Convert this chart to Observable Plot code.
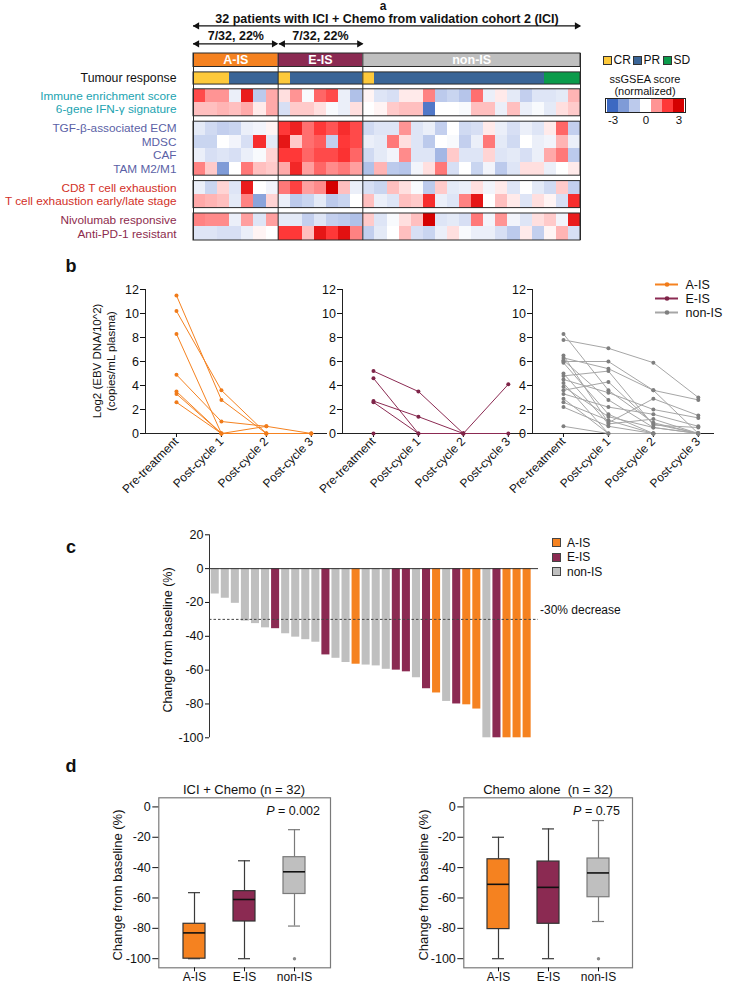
<!DOCTYPE html>
<html>
<head>
<meta charset="utf-8">
<script src="https://cdn.jsdelivr.net/npm/d3@7"></script>
<script src="https://cdn.jsdelivr.net/npm/@observablehq/plot@0.6"></script>
<style>
html,body{margin:0;padding:0;background:#fff;}
#root{position:relative;width:730px;height:990px;overflow:hidden;font-family:"Liberation Sans",Arial,Helvetica,sans-serif;color:#111;}
#root svg{overflow:visible;}
.t{position:absolute;white-space:nowrap;line-height:1;}
</style>
</head>
<body>
<div id="root"></div>
<script>
// ================= DATA =================
const groups = ["A-IS", "E-IS", "non-IS"];
const groupColors = ["#f58220", "#8b2a52", "#bfbfbf"];
const groupSizes = [7, 7, 18];

// Panel a
const tumourResponse = [
  "CR","CR","CR","PR","PR","PR","PR",
  "CR","PR","PR","PR","PR","PR","PR",
  "CR","PR","PR","PR","PR","PR","PR","PR","PR","PR","PR","PR","PR","PR","PR","SD","SD","SD"];
const responseCategories = ["CR", "PR", "SD"];
const responseColors = ["#fdc93b", "#3a6597", "#0b9b4b"];

const immuneEnrichment = [1.8,1.0,1.0,-0.3,2.5,-1.0,0.8, 0.3,1.0,-0.1,1.5,1.8,-0.3,-1.2, 0.1,-0.5,-0.6,0.2,0.2,1.2,-1.0,-0.8,-1.1,1.4,-0.3,0.2,-0.4,-0.9,-0.5,-0.5,-0.4,0.7];
const ifngSignature    = [0.6,0.6,0.7,0.6,0.8,0.2,0.8, -0.6,0.5,0.5,0.3,-0.1,-0.3,0.3, 0.0,0.1,0.5,0.6,0.6,-2.7,0.0,0.0,-0.1,0.6,0.6,-0.3,0.6,-0.3,-0.1,-0.4,0.3,0.5];
const tgfEcm           = [-0.4,-0.7,-0.9,-0.8,-0.3,-0.2,0.1, 2.0,2.4,1.4,2.0,1.7,2.2,1.8, -0.7,-0.5,-0.5,1.0,-0.5,-0.3,-0.9,0.0,-0.7,-0.6,0.2,-0.3,-0.6,-0.3,-0.5,0.2,1.5,-0.9];
const mdsc             = [-0.8,-0.8,0.0,-0.2,-0.6,2.2,-0.4, 2.6,0.5,1.4,1.6,-0.9,2.0,1.8, -0.3,-0.4,1.3,0.3,-0.5,-1.0,0.0,-0.1,-0.9,-0.3,1.3,-0.4,-0.7,0.0,-0.3,-0.2,0.7,-0.3];
const caf              = [-0.3,-0.6,-0.5,-0.6,-0.3,-0.1,0.4, 2.0,2.0,1.5,1.8,1.8,2.1,1.5, -0.7,-0.4,-0.2,1.1,-0.5,-0.5,-1.4,0.5,-0.5,-0.5,0.4,-0.5,-0.4,-0.6,-0.3,0.8,1.3,-1.0];
const tamM2M1          = [1.2,0.5,-2.0,0.0,1.3,0.6,0.5, 0.8,2.3,0.9,1.5,1.1,1.3,0.9, -1.2,0.7,-1.0,-1.1,-0.2,0.3,1.3,-0.6,0.0,-0.8,-0.2,-1.0,-0.5,0.3,0.3,-0.3,0.0,0.2];
const cd8Exhaustion    = [-0.3,-0.8,0.4,-0.5,2.5,0.0,-0.2, 1.3,1.9,0.9,1.1,3.0,0.6,-0.3, -0.6,-0.8,0.6,0.3,-0.1,-1.0,0.5,-0.4,-0.3,0.3,-0.2,0.2,-0.5,0.0,-0.4,-0.7,0.5,-0.9];
const tcellExhStage    = [0.8,0.7,0.6,-0.4,1.2,-1.8,0.4, -0.3,-1.0,-0.8,-0.4,-1.0,-0.8,0.0, 0.6,-0.3,-0.5,0.6,0.5,2.2,-0.3,-0.5,1.2,2.6,0.0,0.6,0.2,-0.5,0.3,0.1,-0.6,2.2];
const nivolumabResp    = [1.2,1.1,1.1,-0.3,0.9,-0.5,0.9, -0.4,-0.4,-0.9,-0.5,-0.9,-1.0,-1.2, 0.5,-0.5,-0.1,0.3,0.6,3.0,-0.5,-0.4,-0.6,1.3,-0.2,1.0,-0.2,-0.5,0.3,0.5,-0.2,2.5];
const antiPd1Resist    = [-0.5,-0.5,-0.6,-0.6,-0.3,0.1,0.0, 2.0,2.0,0.6,2.6,2.0,2.7,1.2, -0.9,-0.4,0.0,0.6,-0.6,-0.8,-0.3,0.3,-0.1,-0.3,-0.3,-0.6,-1.0,0.2,-0.9,0.1,0.7,-0.6];

const signatureBlocks = [
  {color: "#1ba3b1", rows: [["Immune enrichment score", immuneEnrichment], ["6-gene IFN-\u03b3 signature", ifngSignature]]},
  {color: "#5b5fa6", rows: [["TGF-\u03b2-associated ECM", tgfEcm], ["MDSC", mdsc], ["CAF", caf], ["TAM M2/M1", tamM2M1]]},
  {color: "#d22f27", rows: [["CD8 T cell exhaustion", cd8Exhaustion], ["T cell exhaustion early/late stage", tcellExhStage]]},
  {color: "#8d2b4d", rows: [["Nivolumab responsive", nivolumabResp], ["Anti-PD-1 resistant", antiPd1Resist]]}
];
const scoreLegendValues = [-3, -2, -1, 0, 1, 2, 3];
const scoreLegendTicks = [-3, 0, 3];

// Panel b
const timepoints = ["Pre-treatment", "Post-cycle 1", "Post-cycle 2", "Post-cycle 3"];
const ebvTicks = [0, 2, 4, 6, 8, 10, 12];
const ebvAIS = [
  [11.5, 2.8, 0, null],
  [10.2, 3.6, 0, 0],
  [8.3, 0, 0.6, 0],
  [4.9, 1.0, 0.6, null],
  [3.5, 0, 0, null],
  [3.3, 0, null, null],
  [2.6, 0, 0, 0]
];
const ebvEIS = [
  [5.2, 3.5, 0, null],
  [4.6, 0, 0, 4.1],
  [2.7, 1.4, 0, 0],
  [2.6, 0, 0, null],
  [0, null, null, null]
];
const ebvNonIS = [
  [8.3, 3.6, 0.9, 0],
  [7.8, 7.1, 5.9, 3.0],
  [6.5, 0.9, 2.9, 1.5],
  [6.3, 5.4, 3.6, 0],
  [6.1, 2.8, 0.5, 0],
  [6.0, 6.0, 3.6, 2.8],
  [5.9, 1.6, 0, 0],
  [4.8, 5.2, 0.7, 0.5],
  [4.5, 3.4, 2.0, 1.3],
  [4.2, 0, 0, 0],
  [3.6, 4.3, 0.8, 0],
  [3.3, 2.2, 1.6, 0.6],
  [2.9, 0, 0, 0],
  [2.6, 1.1, 0, null],
  [0.6, 0, 0, 0],
  [5.0, 0.8, 1.2, 0],
  [3.9, 1.4, 0.5, 0],
  [2.2, 0.6, 0, 0]
];

// Panel c
const waterfallGroup = ["non-IS","non-IS","non-IS","non-IS","non-IS","non-IS","E-IS","non-IS","non-IS","non-IS","non-IS","E-IS","non-IS","non-IS","A-IS","non-IS",
  "non-IS","non-IS","E-IS","E-IS","non-IS","E-IS","A-IS","non-IS","E-IS","A-IS","A-IS","non-IS","E-IS","A-IS","A-IS","A-IS"];
const waterfallChange = [-15,-17.5,-20.5,-31,-32.5,-35,-35.5,-38.5,-40.5,-42,-43.5,-51,-53,-55.5,-56.5,-57,
  -57.5,-59.5,-60,-61,-64.5,-71,-73.5,-78.5,-80,-80.5,-83,-100,-100,-100,-100,-100];
const waterfallTicks = [20, 0, -20, -40, -60, -80, -100];
const decreaseThreshold = -30;

// Panel d (chemo alone summary statistics)
const chemoWhiskerHigh = [-20, -14.5, -9];
const chemoQ3 = [-34.5, -36, -34];
const chemoMedian = [-51, -53, -43.5];
const chemoQ1 = [-80.5, -77, -59.5];
const chemoWhiskerLow = [-100, -100, -75.5];
const chemoOutlierGroup = ["non-IS"];
const chemoOutlierValue = [-100];
const boxTicks = [0, -20, -40, -60, -80, -100];

// ================= HELPERS =================
const FONT = '"Liberation Sans", Arial, Helvetica, sans-serif';
const baseStyle = {fontFamily: FONT, fontSize: "12px", color: "#111", background: "transparent", overflow: "visible"};
const root = document.getElementById("root");
function place(node, left, top) {
  const w = document.createElement("div");
  w.style.cssText = `position:absolute;left:${left}px;top:${top}px;`;
  w.appendChild(node); root.appendChild(w); return w;
}
function label(content, x, y, css = "", ax = "-50%", ay = "-50%", rot = 0) {
  const d = document.createElement("div");
  d.className = "t";
  d.innerHTML = content;
  d.style.cssText += `left:${x}px;top:${y}px;transform:translate(${ax},${ay}) rotate(${rot}deg);` + css;
  root.appendChild(d); return d;
}
const scoreColor = {type: "linear", domain: scoreLegendValues,
  range: ["#3d69c2", "#7f9bd7", "#bccaec", "#ffffff", "#ff9494", "#ff3838", "#d50000"], clamp: true};

// ================= PANEL a =================
const nPatients = tumourResponse.length;
const groupBlocks = [];
{ let s = 0; groups.forEach((g, k) => { groupBlocks.push({name: g, color: groupColors[k], start: s, end: s + groupSizes[k]}); s += groupSizes[k]; }); }
const headerBand = {y1: 0, y2: 1};
const respBand = {y1: 1.4, y2: 2.3};
const rowLayout = [], blockLayout = [];
let cursor = 2.65;
signatureBlocks.forEach(b => {
  const start = cursor;
  b.rows.forEach(([name, vals]) => { rowLayout.push({name, vals, color: b.color, y1: cursor, y2: cursor + 1}); cursor += 1; });
  blockLayout.push({y1: start, y2: cursor, color: b.color});
  cursor += 0.4;
});
const yBottom = cursor - 0.4;
const cells = [];
rowLayout.forEach(r => r.vals.forEach((v, i) => cells.push({i, v, y1: r.y1, y2: r.y2})));
const respData = tumourResponse.map((r, i) => ({i, r}));
const yTitle = -2.55, yArrow1 = -2.04, ySub = -1.28, yArrow2 = -0.72;
const arrowSpans = [{x1: 0, x2: nPatients, y: yArrow1},
  {x1: groupBlocks[0].start, x2: groupBlocks[0].end - 0.05, y: yArrow2},
  {x1: groupBlocks[1].start + 0.1, x2: groupBlocks[1].end, y: yArrow2}];
const subLabels = groupBlocks.slice(0, 2).map(g => ({x: (g.start + g.end) / 2,
  text: `${g.end - g.start}/${nPatients}, ${Math.round(100 * (g.end - g.start) / nPatients)}%`}));

const plotA = Plot.plot({
  width: 730, height: 245, margin: 0, style: baseStyle,
  x: {domain: [0, nPatients], range: [193, 580], axis: null},
  y: {domain: [0, yBottom], range: [53, 240], axis: null},
  color: scoreColor,
  marks: [
    ...groupBlocks.map(g => Plot.rect([g], {x1: "start", x2: "end", y1: headerBand.y1, y2: headerBand.y2, fill: g.color})),
    Plot.text(groupBlocks, {x: d => (d.start + d.end) / 2, y: 0.5, text: "name", fill: "white", fontWeight: "bold", fontSize: 12.5}),
    ...responseCategories.map((k, j) => Plot.rect(respData.filter(d => d.r === k),
      {x1: "i", x2: d => d.i + 1, y1: respBand.y1, y2: respBand.y2, fill: responseColors[j], shapeRendering: "crispEdges"})),
    Plot.rect(cells, {x1: "i", x2: d => d.i + 1, y1: "y1", y2: "y2", fill: "v", shapeRendering: "crispEdges"}),
    Plot.rect([headerBand, respBand, ...blockLayout], {x1: 0, x2: nPatients, y1: "y1", y2: "y2", fill: "none", stroke: "#2a2a2a", strokeWidth: 1}),
    Plot.ruleX([0, ...groupBlocks.map(g => g.end)], {y1: 0, y2: yBottom, stroke: "#2a2a2a", strokeWidth: 1}),
    Plot.text(["Tumour response"], {x: 0, y: (respBand.y1 + respBand.y2) / 2, dx: -17, textAnchor: "end", fill: "#111", fontSize: 12.3}),
    ...signatureBlocks.map(b => Plot.text(rowLayout.filter(r => r.color === b.color),
      {x: 0, y: d => (d.y1 + d.y2) / 2, text: "name", dx: -17, textAnchor: "end", fill: b.color, fontSize: 11.8})),
    Plot.text(["32 patients with ICI + Chemo from validation cohort 2 (ICI)"], {x: nPatients / 2, y: yTitle, fontWeight: "bold", fontSize: 12.5, fill: "#111"}),
    Plot.text(subLabels, {x: "x", y: ySub, text: "text", fontWeight: "bold", fontSize: 12.5, fill: "#111"}),
    Plot.ruleY(arrowSpans, {x1: "x1", x2: "x2", y: "y", stroke: "#111", strokeWidth: 1.2}),
    Plot.dot(arrowSpans, {x: "x1", y: "y", symbol: "triangle", r: 2.7, rotate: -90, fill: "#111", dx: 3.5}),
    Plot.dot(arrowSpans, {x: "x2", y: "y", symbol: "triangle", r: 2.7, rotate: 90, fill: "#111", dx: -3.5})
  ]
});
place(plotA, 0, 0);
label("a", 383, 5.5, "font-weight:bold;font-size:12px;");

// legend: tumour response
responseCategories.forEach((k, j) => {
  const x0 = 603 + j * 30;
  label("", x0, 55.5, `width:7px;height:7px;background:${responseColors[j]};border:1px solid #333;`, "0", "0");
  label(k, x0 + 10.5, 60, "font-size:12px;", "0", "-50%");
});
label("ssGSEA score", 645, 79, "font-size:11px;");
label("(normalized)", 645, 91, "font-size:11px;");
const ramp = Plot.plot({
  width: 90, height: 32, marginLeft: 5, marginRight: 5, marginTop: 3, marginBottom: 15, style: baseStyle,
  x: {type: "band", domain: scoreLegendValues, padding: 0, axis: null},
  color: scoreColor,
  marks: [
    Plot.cell(scoreLegendValues, {x: d => d, fill: d => d, shapeRendering: "crispEdges"}),
    Plot.frame({stroke: "#222"}),
    Plot.axisX({ticks: scoreLegendTicks, tickSize: 0, tickPadding: 3, fontSize: 11.5, tickFormat: d => String(d), label: null})
  ]
});
place(ramp, 600, 95.3);

// ================= PANEL b =================
const lineColors = ["#f58220", "#8b2a52", "#a6a6a6"];
const dotColors = ["#f07b1a", "#7e2448", "#7f7f7f"];
function longForm(rows, group) {
  const out = [];
  rows.forEach((r, p) => r.forEach((v, t) => { if (v !== null) out.push({p, t, v, group}); }));
  return out;
}
const bX0 = -0.689, bX1 = 3.36;
function ebvPlot(rows, gi) {
  const data = longForm(rows, groups[gi]);
  return Plot.plot({
    width: 245, height: 220, marginLeft: 55, marginRight: 8, marginTop: 9, marginBottom: 67, style: baseStyle,
    x: {domain: [bX0, bX1], axis: null},
    y: {domain: [0, 12], axis: null},
    color: {domain: groups, range: lineColors},
    marks: [
      Plot.ruleX([bX0], {stroke: "#222"}),
      Plot.ruleY([0], {stroke: "#222"}),
      Plot.axisY({ticks: ebvTicks, tickSize: 5, tickPadding: 1.5, fontSize: 12.5, tickFormat: d => String(d), label: null}),
      Plot.axisX({ticks: [0, 1, 2, 3], tickFormat: i => timepoints[i], tickRotate: -45, tickSize: 4, tickPadding: 2, fontSize: 12, label: null}),
      Plot.line(data, {x: "t", y: "v", z: "p", stroke: "group", strokeWidth: 1}),
      Plot.dot(data, {x: "t", y: "v", r: 2, fill: dotColors[gi]})
    ]
  });
}
label("b", 71, 266, "font-weight:bold;font-size:18px;");
place(ebvPlot(ebvAIS, 0), 90, 280);
place(ebvPlot(ebvEIS, 1), 287, 280);
place(ebvPlot(ebvNonIS, 2), 477, 280);
label("Log2 (EBV DNA/10^2)", 98, 361, "font-size:11.5px;", "-50%", "-50%", -90);
label("(copies/mL plasma)", 112, 361, "font-size:11.5px;", "-50%", "-50%", -90);
const legendB = Plot.plot({
  width: 90, height: 46, margin: 0, style: baseStyle,
  x: {domain: [0, 1], range: [15, 38], axis: null},
  y: {type: "point", domain: groups, range: [8.7, 38.3], padding: 0, axis: null},
  color: {domain: groups, range: lineColors},
  marks: [
    Plot.ruleY(groups, {y: d => d, x1: 0, x2: 1, stroke: d => d, strokeWidth: 2}),
    ...groups.map((g, k) => Plot.dot([g], {x: 0.5, y: d => d, r: 2.3, fill: dotColors[k]})),
    Plot.text(groups, {x: 1, y: d => d, dx: 7, text: d => d, textAnchor: "start", fontSize: 12.5, fill: "#111"})
  ]
});
place(legendB, 640, 275);

// ================= PANEL c =================
const waterfall = waterfallChange.map((v, i) => ({i, v, g: waterfallGroup[i]}));
const cX0 = -0.07, cX1 = 32.63;
const plotC = Plot.plot({
  width: 390, height: 225, marginLeft: 59, marginRight: 2, marginTop: 9.3, marginBottom: 12.7, style: baseStyle,
  x: {domain: [cX0, cX1], axis: null},
  y: {domain: [-100, 20], axis: null},
  color: {domain: groups, range: groupColors},
  marks: [
    Plot.rect(waterfall, {x1: d => d.i + 0.1, x2: d => d.i + 0.9, y1: 0, y2: "v", fill: "g"}),
    Plot.ruleY([decreaseThreshold], {stroke: "#444", strokeDasharray: "2.5,2", strokeWidth: 1}),
    Plot.ruleY([0], {stroke: "#333"}),
    Plot.ruleX([cX0], {stroke: "#333"}),
    Plot.axisY({ticks: waterfallTicks, tickSize: 4, tickPadding: 2, fontSize: 12.5, tickFormat: d => String(d), label: null})
  ]
});
label("c", 71, 547, "font-weight:bold;font-size:18px;");
place(plotC, 150, 525);
label("Change from baseline (%)", 168, 640, "font-size:12.5px;", "-50%", "-50%", -90);
label("-30% decrease", 540, 609.5, "font-size:12px;", "0", "-50%");
groups.forEach((g, k) => {
  const y = 542.7 + k * 14.5;
  label("", 551.5, y - 4.5, `width:7px;height:7px;background:${groupColors[k]};border:1px solid #444;`, "0", "0");
  label(g, 567, y, "font-size:12px;", "0", "-50%");
});

// ================= PANEL d =================
function boxStats(vals) {
  const s = d3.sort(vals);
  const q1 = d3.quantileSorted(s, 0.25), med = d3.quantileSorted(s, 0.5), q3 = d3.quantileSorted(s, 0.75);
  const iqr = q3 - q1;
  const lo = d3.min(s.filter(v => v >= q1 - 1.5 * iqr));
  const hi = d3.max(s.filter(v => v <= q3 + 1.5 * iqr));
  return {q1, med, q3, lo, hi, out: s.filter(v => v < lo || v > hi)};
}
const iciStats = groups.map(g => ({group: g, ...boxStats(waterfall.filter(d => d.g === g).map(d => d.v))}));
const iciOutliers = iciStats.flatMap(s => s.out.map(v => ({group: s.group, v})));
const chemoStats = groups.map((g, k) => ({group: g, q1: chemoQ1[k], med: chemoMedian[k], q3: chemoQ3[k], lo: chemoWhiskerLow[k], hi: chemoWhiskerHigh[k]}));
const chemoOutliers = chemoOutlierGroup.map((g, k) => ({group: g, v: chemoOutlierValue[k]}));

function boxPlot(stats, outliers, width) {
  const dark = d => d.group !== "non-IS", light = d => d.group === "non-IS";
  const whisk = (filter, stroke) => [
    Plot.ruleX(stats, {filter, x: "group", y1: "lo", y2: "q1", stroke, strokeWidth: 1.2}),
    Plot.ruleX(stats, {filter, x: "group", y1: "q3", y2: "hi", stroke, strokeWidth: 1.2}),
    Plot.tickY(stats, {filter, x: "group", y: "lo", stroke, insetLeft: 5, insetRight: 5, strokeWidth: 1.2}),
    Plot.tickY(stats, {filter, x: "group", y: "hi", stroke, insetLeft: 5, insetRight: 5, strokeWidth: 1.2})
  ];
  return Plot.plot({
    width, height: 206, marginLeft: 58.3, marginRight: 10, marginTop: 21.3, marginBottom: 14.7, style: baseStyle,
    x: {type: "band", domain: groups, paddingInner: 0.57, paddingOuter: 0.47, axis: null},
    y: {domain: [-106, 6], axis: null},
    color: {domain: groups, range: groupColors},
    marks: [
      ...whisk(dark, "#3a3a3a"),
      ...whisk(light, "#7a7a7a"),
      Plot.barY(stats, {filter: dark, x: "group", y1: "q1", y2: "q3", fill: "group", stroke: "#333", strokeWidth: 1.2}),
      Plot.barY(stats, {filter: light, x: "group", y1: "q1", y2: "q3", fill: "group", stroke: "#7a7a7a", strokeWidth: 1.2}),
      Plot.tickY(stats, {x: "group", y: "med", stroke: "#111", strokeWidth: 1.6}),
      Plot.dot(outliers, {x: "group", y: "v", r: 1.7, fill: "#8a8a8a"}),
      Plot.frame({stroke: "#7a7a7a", strokeWidth: 1.2}),
      Plot.axisY({ticks: boxTicks, tickSize: 6, tickPadding: 2, fontSize: 12.5, tickFormat: d => String(d), label: null}),
      Plot.axisX({tickSize: 4, tickPadding: 1, fontSize: 12, label: null})
    ]
  });
}
label("d", 71, 766, "font-weight:bold;font-size:18px;");
place(boxPlot(iciStats, iciOutliers, 240), 100, 776);
place(boxPlot(chemoStats, chemoOutliers, 237), 405, 776);
label("ICI + Chemo (n = 32)", 244, 789, "font-size:13px;");
label("Chemo alone&nbsp; (n = 32)", 548, 789, "font-size:13px;");
label("<i>P</i> = 0.002", 320, 810.5, "font-size:12.5px;", "-100%", "-50%");
label("<i>P</i> = 0.75", 620, 810.5, "font-size:12.5px;", "-100%", "-50%");
label("Change from baseline (%)", 117, 885, "font-size:13px;", "-50%", "-50%", -90);
label("Change from baseline (%)", 423, 885, "font-size:13px;", "-50%", "-50%", -90);
</script>
</body>
</html>
